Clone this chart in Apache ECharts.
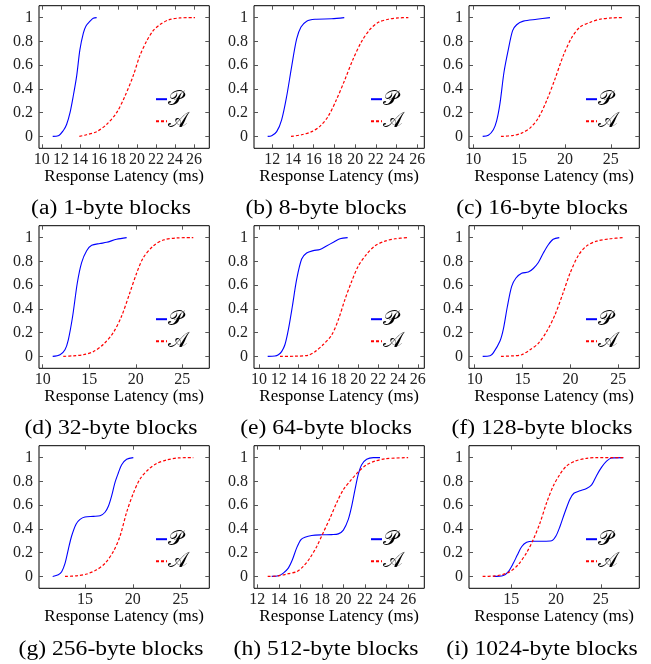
<!DOCTYPE html>
<html><head><meta charset="utf-8">
<script src="https://cdn.jsdelivr.net/npm/echarts@6/dist/echarts.min.js"></script>
<style>html,body{margin:0;padding:0;background:#fff}#c{width:651px;height:664px}</style>
</head><body><div id="c"></div>
<script>
// ---- data ----
const captions = ['(a) 1-byte blocks','(b) 8-byte blocks','(c) 16-byte blocks','(d) 32-byte blocks','(e) 64-byte blocks','(f) 128-byte blocks','(g) 256-byte blocks','(h) 512-byte blocks','(i) 1024-byte blocks'];
const xTicksEven = [10,12,14,16,18,20,22,24,26];
const xTicksFive = [10,15,20,25];
const yTicks = [0,0.2,0.4,0.6,0.8,1];
const xMin = [9.7, 10.23, 9.55, 9.6, 9.5, 9.4, 10.2, 11.7, 10.3];
const xMax = [27.6, 26.68, 28.1, 27.9, 26.65, 27.2, 28.0, 27.5, 29.3];
const xTickKind = ['even','even','five','five','even','five','five','even','five'];
const nameP = '𝒫', nameA = '𝒜';
const xTitle = 'Response Latency (ms)';

const P_1 = [[11.14,0],[11.73,0.005],[12.26,0.05],[12.6,0.1],[12.96,0.2],[13.3,0.34],[13.66,0.51],[14.0,0.73],[14.36,0.87],[14.64,0.93],[15.06,0.97],[15.4,0.995],[15.76,1]];
const A_1 = [[13.94,0],[14.7,0.014],[15.76,0.04],[16.8,0.1],[17.86,0.2],[18.74,0.34],[19.6,0.51],[20.3,0.68],[21.0,0.8],[21.7,0.89],[22.4,0.94],[23.3,0.98],[24.5,0.997],[26.1,1]];
const P_8 = [[11.55,0],[11.94,0.005],[12.42,0.04],[12.9,0.14],[13.39,0.34],[13.87,0.59],[14.35,0.82],[14.77,0.92],[15.32,0.97],[16.12,0.986],[17.73,0.99],[18.95,1]];
const A_8 = [[13.8,0],[14.83,0.014],[15.8,0.04],[16.6,0.085],[17.4,0.17],[18.2,0.31],[19.02,0.48],[19.8,0.65],[20.63,0.8],[21.43,0.9],[22.24,0.96],[23.2,0.986],[24.17,0.997],[25.14,1]];
const P_16 = [[11.04,0],[11.66,0.01],[12.2,0.056],[12.56,0.13],[12.93,0.28],[13.36,0.54],[13.83,0.73],[14.3,0.89],[14.74,0.94],[15.47,0.97],[16.92,0.986],[18.37,1]];
const A_16 = [[13.03,0],[14.38,0.008],[15.28,0.028],[16.19,0.07],[17.1,0.155],[18.0,0.3],[18.9,0.48],[19.82,0.68],[20.73,0.83],[21.64,0.92],[22.73,0.96],[23.8,0.986],[25.1,0.997],[26.36,1]];
const P_32 = [[11.07,0],[11.86,0.014],[12.39,0.056],[12.75,0.14],[13.22,0.34],[13.72,0.62],[14.18,0.79],[14.72,0.89],[15.26,0.935],[16.15,0.95],[16.87,0.96],[17.94,0.986],[19.02,1]];
const A_32 = [[12.21,0],[13.29,0.005],[14.36,0.014],[15.43,0.04],[16.5,0.1],[17.58,0.2],[18.48,0.34],[19.38,0.54],[20.09,0.7],[20.8,0.83],[21.89,0.93],[22.96,0.98],[24.4,0.997],[26.18,1]];
const P_64 = [[10.88,0],[11.61,0.003],[11.95,0.014],[12.28,0.04],[12.62,0.1],[12.96,0.225],[13.36,0.42],[13.8,0.65],[14.3,0.82],[14.8,0.87],[15.47,0.89],[16.14,0.9],[16.8,0.93],[17.49,0.96],[18.16,0.99],[18.93,1]];
const A_64 = [[12.12,0],[13.63,0.002],[14.97,0.01],[15.64,0.04],[16.48,0.1],[17.32,0.18],[18.0,0.31],[18.66,0.48],[19.33,0.63],[20.0,0.76],[20.84,0.86],[21.68,0.93],[22.69,0.97],[23.7,0.99],[24.97,1]];
const P_128 = [[10.83,0],[11.6,0.005],[11.94,0.03],[12.64,0.13],[12.99,0.23],[13.41,0.42],[13.86,0.59],[14.31,0.66],[14.9,0.7],[15.6,0.71],[16.12,0.74],[16.65,0.79],[17.17,0.87],[17.69,0.94],[18.2,0.986],[18.84,1]];
const A_128 = [[12.74,0],[14.03,0.005],[14.9,0.014],[15.78,0.056],[16.65,0.11],[17.52,0.21],[18.39,0.35],[19.26,0.54],[19.96,0.7],[20.83,0.85],[21.7,0.93],[22.74,0.97],[24.14,0.99],[25.53,1]];
const P_256 = [[11.63,0],[12.22,0.014],[12.57,0.04],[12.92,0.11],[13.27,0.23],[13.61,0.34],[14.07,0.44],[14.49,0.48],[15.0,0.5],[15.88,0.505],[16.58,0.51],[17.1,0.54],[17.45,0.59],[17.8,0.68],[18.14,0.79],[18.49,0.87],[18.84,0.94],[19.36,0.986],[20.06,1]];
const A_256 = [[12.92,0],[14.14,0.005],[15.18,0.02],[16.23,0.056],[17.1,0.11],[17.97,0.21],[18.67,0.34],[19.36,0.54],[20.06,0.7],[20.76,0.82],[21.63,0.9],[22.5,0.95],[23.54,0.98],[24.76,0.997],[26.33,1]];
const P_512 = [[13.34,0],[13.96,0.005],[14.42,0.028],[14.88,0.07],[15.26,0.14],[15.66,0.24],[16.06,0.31],[16.43,0.33],[17.05,0.344],[17.98,0.35],[18.9,0.352],[19.52,0.358],[19.99,0.39],[20.45,0.48],[20.76,0.59],[21.07,0.73],[21.38,0.86],[21.69,0.94],[22.15,0.986],[22.77,1],[23.39,1]];
const A_512 = [[12.97,0],[13.96,0.005],[14.88,0.023],[15.66,0.04],[16.28,0.085],[16.89,0.155],[17.51,0.25],[18.13,0.37],[18.75,0.49],[19.37,0.62],[19.99,0.73],[20.6,0.8],[21.38,0.88],[22.15,0.94],[22.92,0.97],[23.85,0.99],[26.0,1]];
const P_1024 = [[13.01,0],[14.13,0.008],[14.69,0.04],[15.24,0.11],[15.69,0.18],[16.17,0.25],[16.73,0.287],[17.47,0.296],[18.59,0.296],[19.52,0.3],[20.0,0.34],[20.45,0.42],[21.0,0.54],[21.56,0.65],[22.0,0.7],[22.68,0.72],[23.42,0.74],[23.98,0.77],[24.54,0.85],[25.1,0.92],[25.65,0.97],[26.21,0.997],[27.51,1]];
const A_1024 = [[11.82,0],[13.01,0.003],[13.94,0.014],[14.87,0.04],[15.8,0.1],[16.73,0.2],[17.47,0.31],[18.22,0.45],[18.96,0.62],[19.7,0.76],[20.45,0.86],[21.19,0.93],[22.12,0.97],[23.42,0.994],[24.54,1],[27.51,1]];

const seriesP = [P_1,P_8,P_16,P_32,P_64,P_128,P_256,P_512,P_1024];
const seriesA = [A_1,A_8,A_16,A_32,A_64,A_128,A_256,A_512,A_1024];

// ---- layout ----
const colLeft = [39, 254, 469];
const rowTop = [5.7, 225.7, 445.7];
const W = 170.3, H = 142.6;
const captionX = [111, 326, 542];
const captionY = [209, 429, 650];
const FONT = 'Liberation Serif';

const grids = [], xAxes = [], yAxes = [], series = [], legends = [], graphics = [];
for (let i = 0; i < 9; i++) {
  const c = i % 3, r = Math.floor(i / 3);
  const left = colLeft[c], top = rowTop[r];
  grids.push({left: left, top: top, width: W, height: H, show: true, borderColor: '#000', borderWidth: 1, backgroundColor: 'transparent', containLabel: false});
  const ticks = (xTickKind[i] === 'even' ? xTicksEven : xTicksFive).filter(v => v >= xMin[i] && v <= xMax[i]);
  const tickStyle = {inside: true, length: 4, customValues: ticks, lineStyle: {color: '#555', width: 1}};
  const noLine = {show: false, onZero: false};
  xAxes.push({gridIndex: i, type: 'value', position: 'bottom', min: xMin[i], max: xMax[i],
    axisLine: noLine, splitLine: {show: false}, axisTick: tickStyle,
    axisLabel: {customValues: ticks, margin: 3, fontFamily: FONT, fontSize: 16, color: '#222'},
    name: xTitle, nameLocation: 'middle', nameGap: 16,
    nameTextStyle: {fontFamily: FONT, fontSize: 17, color: '#000'}});
  xAxes.push({gridIndex: i, type: 'value', position: 'top', min: xMin[i], max: xMax[i],
    axisLine: noLine, splitLine: {show: false}, axisTick: tickStyle, axisLabel: {show: false}});
  const yTickStyle = {inside: true, length: 4, customValues: yTicks, lineStyle: {color: '#555', width: 1}};
  yAxes.push({gridIndex: i, type: 'value', position: 'left', min: -0.1, max: 1.1,
    axisLine: noLine, splitLine: {show: false}, axisTick: yTickStyle,
    axisLabel: {customValues: yTicks, margin: 6, fontFamily: FONT, fontSize: 16, color: '#222'}});
  yAxes.push({gridIndex: i, type: 'value', position: 'right', min: -0.1, max: 1.1,
    axisLine: noLine, splitLine: {show: false}, axisTick: yTickStyle, axisLabel: {show: false}});
  series.push({type: 'line', name: nameP, xAxisIndex: 2*i, yAxisIndex: 2*i, data: seriesP[i],
    symbol: 'none', showSymbol: false, smooth: 0.3, lineStyle: {color: '#0000ff', width: 1.1}, itemStyle: {color: '#0000ff'}});
  series.push({type: 'line', name: nameA, xAxisIndex: 2*i, yAxisIndex: 2*i, data: seriesA[i],
    symbol: 'none', showSymbol: false, smooth: 0.3, lineStyle: {color: '#ff0000', width: 1.2, type: [3, 2]}, itemStyle: {color: '#ff0000'}});
  legends.push({orient: 'vertical', left: left + 116, top: top + 83, padding: 0, itemGap: 1,
    itemWidth: 11, itemHeight: 14, selectedMode: false, data: [nameP, nameA],
    itemStyle: {opacity: 0},
    textStyle: {fontFamily: 'DejaVu Serif', fontSize: 21, lineHeight: 21, color: '#000', padding: [0,0,0,-4]}});
  graphics.push({type: 'text', x: captionX[c], y: captionY[r], scaleX: 1.18,
    style: {text: captions[i], font: '20px "Liberation Serif"', fill: '#000', align: 'center', verticalAlign: 'middle'}});
}

const chart = echarts.init(document.getElementById('c'), null, {renderer: 'canvas'});
chart.setOption({
  animation: false,
  backgroundColor: '#fff',
  grid: grids, xAxis: xAxes, yAxis: yAxes, series: series, legend: legends, graphic: graphics
});
</script></body></html>
